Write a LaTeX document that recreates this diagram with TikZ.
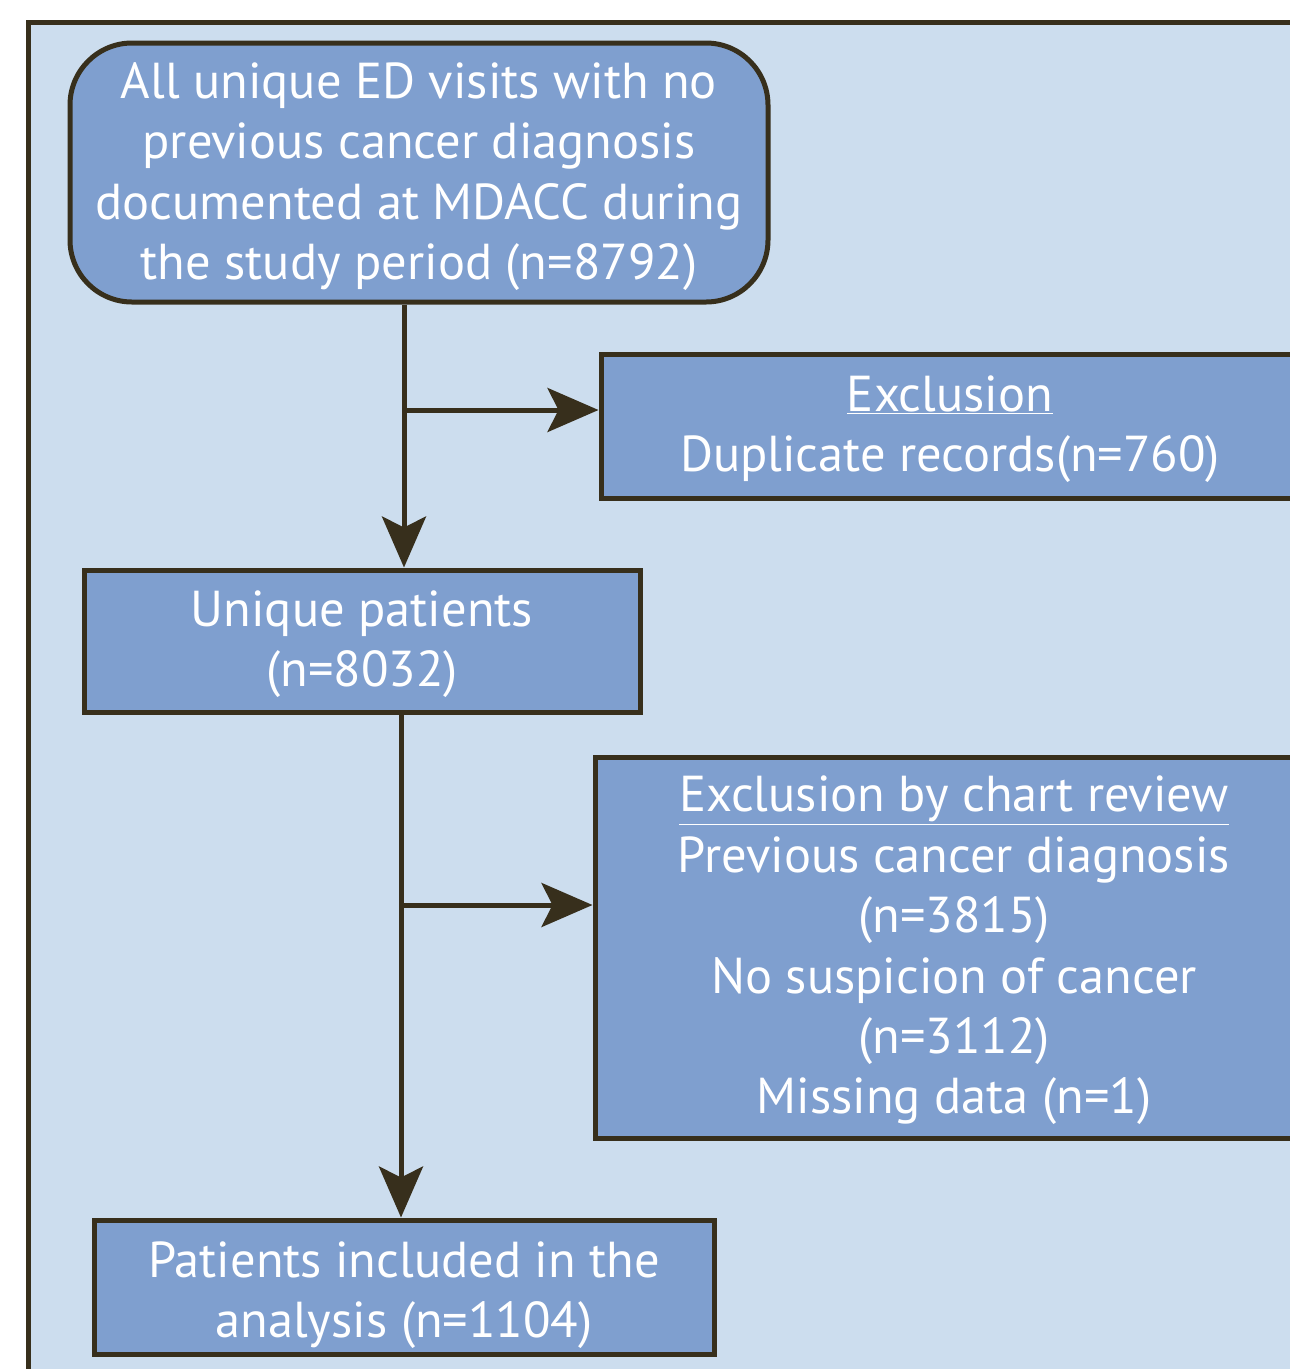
\documentclass[tikz,border=0pt]{standalone}
\usepackage{fontspec}
\setmainfont{PT Sans}
\usetikzlibrary{arrows.meta}
\definecolor{bgblue}{HTML}{CCDDEE}
\definecolor{boxblue}{HTML}{7F9FCF}
\definecolor{edgec}{HTML}{372F1C}
\newcommand{\pushdown}[1]{\rule{0pt}{0pt}\\[#1]}
\begin{document}
\begin{tikzpicture}[x=1pt,y=-1pt,
  flowbox/.style={draw=edgec, line width=5pt, fill=boxblue, text=white, align=center,
    font=\fontsize{50.5}{60.4}\selectfont, inner sep=0pt},
  arr/.style={draw=edgec, line width=5pt, -{Stealth[length=51pt,width=44pt,inset=11pt]}}]
\useasboundingbox (0,0) rectangle (1290,1369);
\draw[edgec, line width=5pt, fill=bgblue] (28.5,22.5) rectangle (1330,1400);
\node[flowbox, rounded corners=62pt, minimum width=698pt, minimum height=259pt] (box1) at (419,172.5)
  {\pushdown{-16.4pt}All unique ED visits with no\\previous cancer diagnosis\\documented at MDACC during\\the study period (n=8792)};
\node[flowbox, minimum width=698pt, minimum height=144pt] (excl1) at (950,426)
  {\pushdown{-18.4pt}\underline{Exclusion}\\Duplicate records(n=760)};
\node[flowbox, minimum width=556pt, minimum height=142pt] (box2) at (362,641)
  {\pushdown{-18.4pt}Unique patients\\(n=8032)};
\node[flowbox, minimum width=718pt, minimum height=381pt] (excl2) at (954,947.5)
  {\pushdown{-18.4pt}\underline{Exclusion by chart review}\\Previous cancer diagnosis\\(n=3815)\\No suspicion of cancer\\(n=3112)\\Missing data (n=1)};
\node[flowbox, minimum width=620pt, minimum height=134pt] (box3) at (404,1287)
  {\pushdown{-8.4pt}Patients included in the\\analysis (n=1104)};
\coordinate (j1) at (404,410);
\coordinate (j2) at (401,905);
\draw[arr] (box1.south -| j1) -- (box2.north -| j1);
\draw[arr] (j1) -- (j1 -| excl1.west);
\draw[arr] (box2.south -| j2) -- (box3.north -| j2);
\draw[arr] (j2) -- (j2 -| excl2.west);
\end{tikzpicture}
\end{document}
